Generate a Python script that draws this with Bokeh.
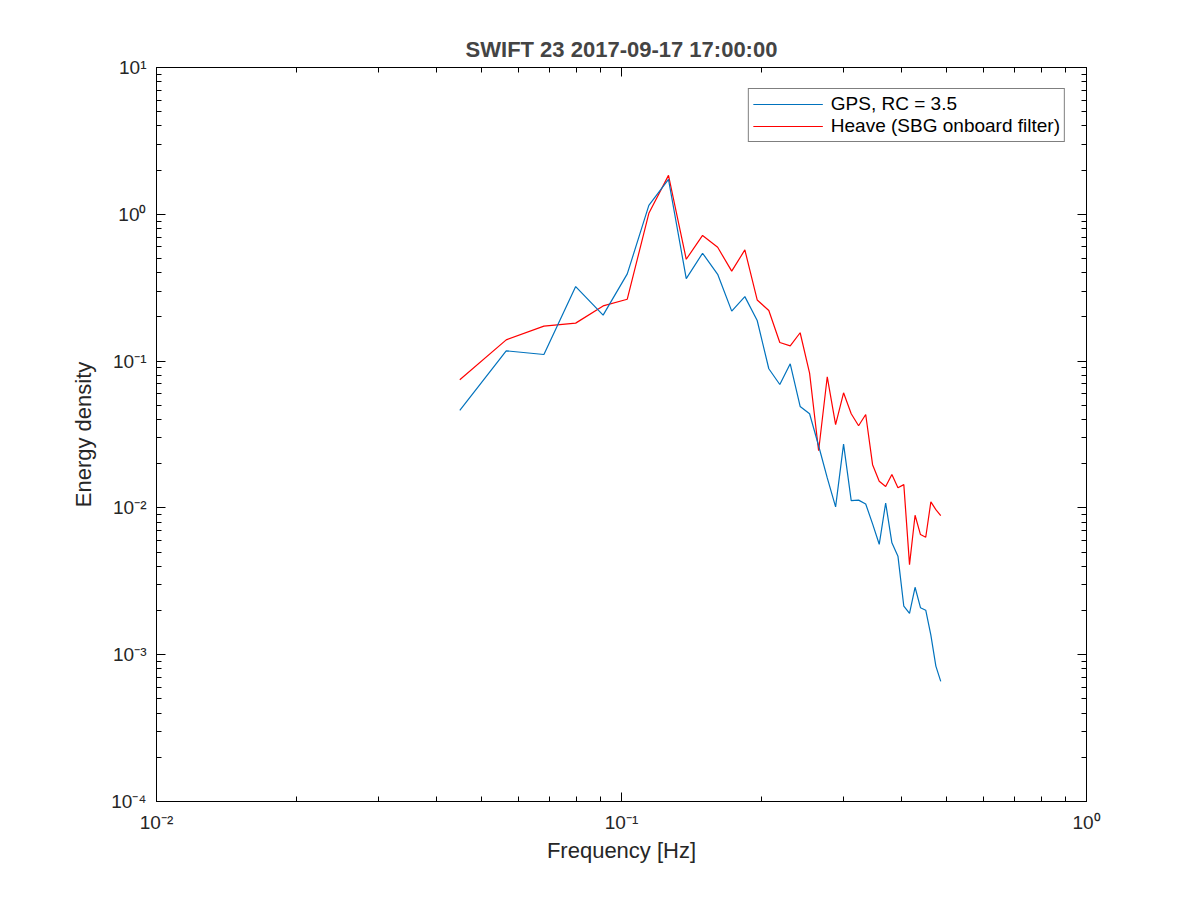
from bokeh.plotting import figure
from bokeh.embed import file_html
from bokeh.resources import INLINE
from bokeh.models import LogAxis, CustomJSTickFormatter, Legend, LegendItem, FixedTicker

# frequency bins [Hz]
freq = [0.0449, 0.0565, 0.0681, 0.0797, 0.0913, 0.1029, 0.1145, 0.1262, 0.1378, 0.1494,
        0.1610, 0.1726, 0.1842, 0.1958, 0.2074, 0.2190, 0.2306, 0.2422, 0.2538, 0.2654,
        0.2770, 0.2887, 0.3003, 0.3119, 0.3235, 0.3351, 0.3467, 0.3583, 0.3699, 0.3815,
        0.3931, 0.4047, 0.4163, 0.4279, 0.4395, 0.4511, 0.4627, 0.4743, 0.4859]

gps = [0.0461, 0.1175, 0.1109, 0.322, 0.2056, 0.3926, 1.151, 1.73, 0.365, 0.543,
       0.390, 0.219, 0.275, 0.189, 0.0887, 0.0693, 0.0959, 0.0491, 0.0438, 0.0265,
       0.0160, 0.01016, 0.0272, 0.0112, 0.0113, 0.01064, 0.00778, 0.00565, 0.0108, 0.00578,
       0.00469, 0.00214, 0.00191, 0.00288, 0.00209, 0.00201, 0.00136, 0.000836, 0.000658]

heave = [0.0746, 0.1396, 0.173, 0.1814, 0.2377, 0.264, 1.016, 1.842, 0.494, 0.718,
         0.596, 0.410, 0.572, 0.261, 0.221, 0.1338, 0.127, 0.156, 0.0829, 0.0245,
         0.0782, 0.0369, 0.0608, 0.0438, 0.0363, 0.0433, 0.0197, 0.0152, 0.0140, 0.0169,
         0.0137, 0.0144, 0.00411, 0.00891, 0.00658, 0.00631, 0.0110, 0.00973, 0.00887]

x_ticks = [0.01, 0.1, 1]
y_ticks = [1e-4, 1e-3, 1e-2, 1e-1, 1, 10]

FONT = "Liberation Sans"

def minors(majors):
    return [m * k for m in majors[:-1] for k in range(2, 10)]

sup_fmt = CustomJSTickFormatter(code="""
const sup = {"-": "\u207b", "0": "\u2070", "1": "\u00b9", "2": "\u00b2", "3": "\u00b3",
             "4": "\u2074", "5": "\u2075", "6": "\u2076", "7": "\u2077", "8": "\u2078", "9": "\u2079"};
const e = Math.round(Math.log10(tick));
return "10" + String(e).split("").map(c => sup[c]).join("");
""")
blank_fmt = CustomJSTickFormatter(code="return '';")

p = figure(width=1184, height=884, x_axis_type='log', y_axis_type='log',
           x_range=(0.01, 1), y_range=(1e-4, 10),
           output_backend="svg", toolbar_location=None,
           min_border_left=156, min_border_right=98, min_border_top=67, min_border_bottom=83)
p.xgrid.visible = False
p.ygrid.visible = False
p.outline_line_color = 'black'
p.outline_line_width = 1
p.background_fill_color = 'white'
p.border_fill_color = 'white'

p.title.text = "SWIFT 23 2017-09-17 17:00:00"
p.title.text_font = FONT
p.title.text_font_size = "22px"
p.title.text_font_style = "bold"
p.title.align = "center"
p.title.standoff = 11

def style_axis(ax, majors):
    ax.ticker = FixedTicker(ticks=majors, minor_ticks=minors(majors))
    ax.axis_line_color = 'black'
    ax.major_tick_in = 9
    ax.major_tick_out = 0
    ax.minor_tick_in = 5
    ax.minor_tick_out = 0
    ax.major_tick_line_color = 'black'
    ax.minor_tick_line_color = 'black'
    ax.major_label_text_font = FONT
    ax.major_label_text_font_size = "19px"
    ax.major_label_text_color = '#262626'
    ax.axis_label_text_font = FONT
    ax.axis_label_text_font_size = "22px"
    ax.axis_label_text_font_style = "normal"
    ax.axis_label_text_color = '#262626'

for ax in p.xaxis:
    style_axis(ax, x_ticks)
    ax.formatter = sup_fmt
for ax in p.yaxis:
    style_axis(ax, y_ticks)
    ax.formatter = sup_fmt

p.xaxis.axis_label = "Frequency [Hz]"
p.yaxis.axis_label = "Energy density"
p.xaxis.major_label_standoff = 10
p.yaxis.major_label_standoff = 10
p.xaxis.axis_label_standoff = 2
p.yaxis.axis_label_standoff = 12

top_ax = LogAxis(formatter=blank_fmt)
right_ax = LogAxis(formatter=blank_fmt)
style_axis(top_ax, x_ticks)
style_axis(right_ax, y_ticks)
p.add_layout(top_ax, "above")
p.add_layout(right_ax, "right")

r2 = p.line(freq, heave, line_color='#FF0000', line_width=1.2)
r1 = p.line(freq, gps, line_color='#0072BD', line_width=1.2)

legend = Legend(items=[LegendItem(label="GPS, RC = 3.5", renderers=[r1]),
                       LegendItem(label="Heave (SBG onboard filter)", renderers=[r2])],
                location="top_right")
legend.margin = 21
legend.padding = 4
legend.spacing = 0
legend.label_height = 18
legend.glyph_height = 18
legend.glyph_width = 70
legend.label_standoff = 8
legend.label_text_font = FONT
legend.label_text_font_size = "19px"
legend.label_text_color = 'black'
legend.border_line_color = 'black'
legend.border_line_width = 1
legend.background_fill_alpha = 1
p.add_layout(legend)

open("out.html", "w").write(file_html(p, INLINE))
